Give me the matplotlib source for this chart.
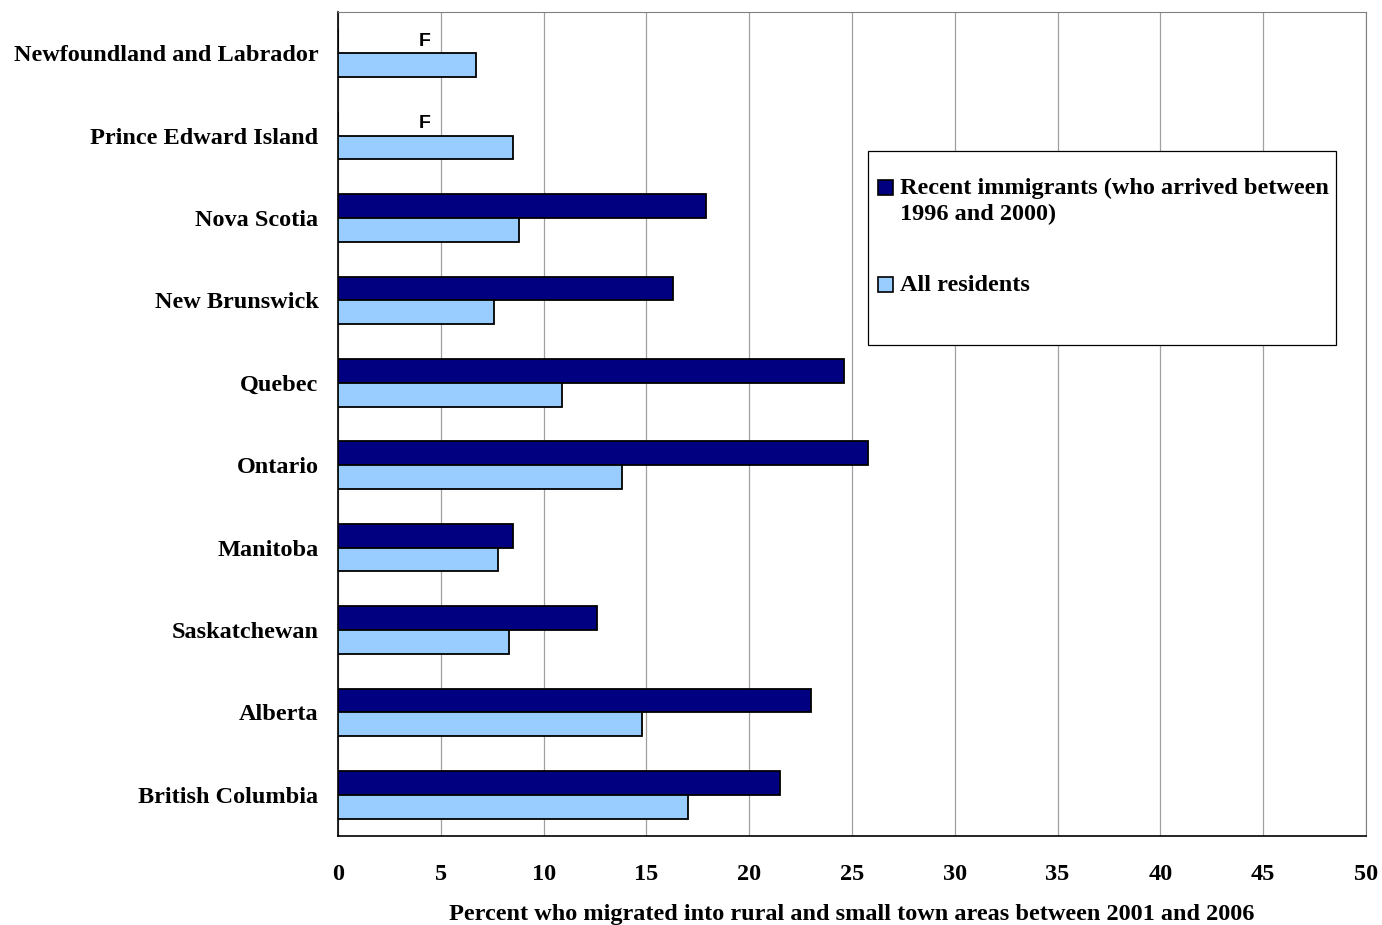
import matplotlib

matplotlib.use("Agg")
import matplotlib.pyplot as plt  # noqa: E402
import numpy as np  # noqa: E402
from matplotlib.patches import Rectangle  # noqa: E402

provinces = [
    "Newfoundland and Labrador",
    "Prince Edward Island",
    "Nova Scotia",
    "New Brunswick",
    "Quebec",
    "Ontario",
    "Manitoba",
    "Saskatchewan",
    "Alberta",
    "British Columbia",
]
# None = suppressed value, shown as "F"
recent_immigrants = [None, None, 17.9, 16.3, 24.6, 25.8, 8.5, 12.6, 23.0, 21.5]
all_residents = [6.7, 8.5, 8.8, 7.6, 10.9, 13.8, 7.8, 8.3, 14.8, 17.0]
x_ticks = [0, 5, 10, 15, 20, 25, 30, 35, 40, 45, 50]
series_labels = ["Recent immigrants (who arrived between\n1996 and 2000)", "All residents"]

DARK = "#000080"
LIGHT = "#99CCFF"
serif = "Liberation Serif"
FS = 17.5
W, H = 1382, 925


def fx(px):
    return px / W


def fy(px):
    return 1 - px / H


fig = plt.figure(figsize=(W / 100, H / 100), dpi=100)
ax = fig.add_axes([fx(338), fy(836), fx(1366) - fx(338), fy(12) - fy(836)])

y = np.arange(len(provinces))
h = 0.29
imm_vals = [v if v is not None else 0 for v in recent_immigrants]
ax.barh(y - h / 2, imm_vals, height=h, color=DARK, edgecolor="black", lw=1.3, zorder=3)
ax.barh(y + h / 2, all_residents, height=h, color=LIGHT, edgecolor="black", lw=1.3, zorder=3)
for yi, v in zip(y, recent_immigrants):
    if v is None:
        ax.text(4.2, yi - h / 2, "F", ha="center", va="center", fontsize=14,
                fontweight="bold", family="Liberation Sans", zorder=4)

ax.set_ylim(len(provinces) - 0.5, -0.5)
ax.set_xlim(0, 50)
ax.set_yticks(y)
ax.set_yticklabels(provinces, fontsize=FS, fontweight="bold", family=serif)
ax.set_xticks(x_ticks)
ax.set_xticklabels([str(t) for t in x_ticks], fontsize=FS, fontweight="bold", family=serif)
ax.tick_params(axis="y", length=0, pad=14)
ax.tick_params(axis="x", length=0, pad=20)
ax.xaxis.grid(True, color="#a0a0a0", lw=0.9, zorder=0)

for side in ["top", "right"]:
    ax.spines[side].set_color("#808080")
for side in ["left", "bottom"]:
    ax.spines[side].set_color("black")
    ax.spines[side].set_linewidth(1.2)

ax.set_xlabel("Percent who migrated into rural and small town areas between 2001 and 2006",
              fontsize=FS, fontweight="bold", family=serif, labelpad=14)

# legend box drawn by hand to match the original layout
fig.patches.append(Rectangle((fx(868), fy(345)), fx(1336) - fx(868), fy(151) - fy(345),
                             transform=fig.transFigure, facecolor="white",
                             edgecolor="black", lw=0.9, zorder=5))
for color, label, ypx in [(DARK, series_labels[0], 187), (LIGHT, series_labels[1], 284)]:
    fig.patches.append(Rectangle((fx(878), fy(ypx + 8)), fx(15), fy(0) - fy(15),
                                 transform=fig.transFigure, facecolor=color,
                                 edgecolor="black", lw=1.2, zorder=6))
    fig.text(fx(900), fy(ypx - 9), label, ha="left", va="top", fontsize=FS,
             fontweight="bold", family=serif, linespacing=1.3, zorder=6)

fig.savefig("out.png", dpi=100)
